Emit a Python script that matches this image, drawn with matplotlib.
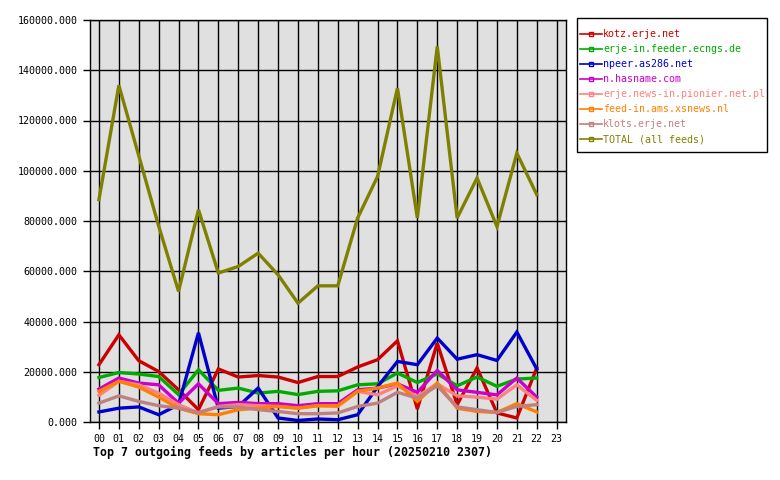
import numpy as np
import matplotlib.pyplot as plt
from matplotlib.patches import Rectangle

hours = np.arange(23)
hour_labels = ['%02d' % h for h in range(24)]

kotz = [22800, 34700, 24400, 20100, 12800, 4900, 21100, 17900, 18500, 17900, 15700, 18100,
        18100, 21900, 24800, 32300, 5200, 31400, 6900, 21500, 3600, 1600, 21500]
erje_in = [17700, 19700, 19100, 18100, 10900, 20800, 12600, 13500, 11500, 12200, 10900, 12200,
           12400, 14800, 15200, 19500, 15700, 19200, 14400, 17900, 14200, 17100, 17500]
npeer = [4000, 5500, 6000, 2900, 6900, 35500, 5500, 6200, 13500, 1600, 600, 1200,
         900, 2900, 14000, 24100, 22800, 33400, 25000, 26800, 24500, 35800, 21100]
hasname = [13100, 17500, 15500, 14800, 7500, 15200, 7300, 7800, 7300, 7300, 6500, 7300,
           7300, 12800, 13500, 15200, 11800, 20500, 12800, 11800, 10800, 17500, 9900]
pionier = [10600, 16200, 14800, 11500, 6900, 3600, 6200, 6900, 6500, 6200, 5500, 6500,
           6200, 12200, 10800, 14400, 10200, 15200, 10400, 9900, 9100, 14800, 8600]
xsnews = [12200, 16200, 13900, 9900, 5500, 3300, 2900, 4900, 5500, 6200, 5500, 6500,
          6500, 12200, 13500, 15500, 8200, 15500, 5500, 4200, 3800, 7300, 4000]
klots = [7500, 10400, 8200, 6500, 5500, 3800, 6000, 6000, 4900, 4200, 3300, 3300,
         3600, 6200, 7500, 11800, 9500, 14400, 6000, 4900, 3800, 6200, 6900]
total = [88500, 134000, 106000, 78000, 52000, 84500, 59300, 61900, 67200, 58600, 47300, 54200,
         54200, 81200, 97700, 132900, 81200, 149500, 81200, 97100, 77800, 107000, 90500]

series = [
    ('kotz.erje.net', kotz, '#cc0000'),
    ('erje-in.feeder.ecngs.de', erje_in, '#00aa00'),
    ('npeer.as286.net', npeer, '#0000cc'),
    ('n.hasname.com', hasname, '#cc00cc'),
    ('erje.news-in.pionier.net.pl', pionier, '#ff8080'),
    ('feed-in.ams.xsnews.nl', xsnews, '#ff8000'),
    ('klots.erje.net', klots, '#c08080'),
    ('TOTAL (all feeds)', total, '#808000'),
]

plt.rcParams['font.family'] = 'DejaVu Sans Mono'

fig = plt.figure(figsize=(7.8, 4.8), dpi=100)
ax = fig.add_axes([90/780, 58/480, 476/780, 402/480])
ax.set_facecolor('#e0e0e0')

for name, vals, col in series:
    ax.plot(hours, vals, color=col, lw=2.4, solid_joinstyle='miter', label=name)

ax.set_xlim(-0.45, 23.47)
ax.set_ylim(0, 160000)
ax.set_xticks(range(24))
ax.set_xticklabels(hour_labels)
ax.set_yticks(np.arange(0, 160001, 20000))
ax.set_yticklabels(['%.3f' % v for v in np.arange(0, 160001, 20000)])
ax.tick_params(labelsize=7.2, length=5, width=1, color='black', pad=4)
ax.grid(True, color='black', lw=1)
ax.set_axisbelow(True)
for s in ax.spines.values():
    s.set_linewidth(1)

# legend box drawn by hand, legend itself without frame
fig.patches.append(Rectangle((577/780, 1 - 152/480), 190/780, 134/480, transform=fig.transFigure,
                             fill=False, edgecolor='black', lw=1))
leg = fig.legend(loc='upper left', bbox_to_anchor=(580/780, 1 - 29/480), frameon=False,
                 fontsize=7.2, labelcolor='linecolor', handlelength=2.2, handletextpad=0.1,
                 labelspacing=0.5, borderpad=0, borderaxespad=0)
for h in leg.legend_handles:
    h.set_linewidth(1.2)
    h.set_marker('s')
    h.set_markersize(2.5)
    h.set_markerfacecolor('none')

fig.text(93/780, 1 - 452/480, 'Top 7 outgoing feeds by articles per hour (20250210 2307)',
         fontsize=8.4, fontweight='bold', va='center', ha='left')

fig.savefig('out.png', dpi=100)
